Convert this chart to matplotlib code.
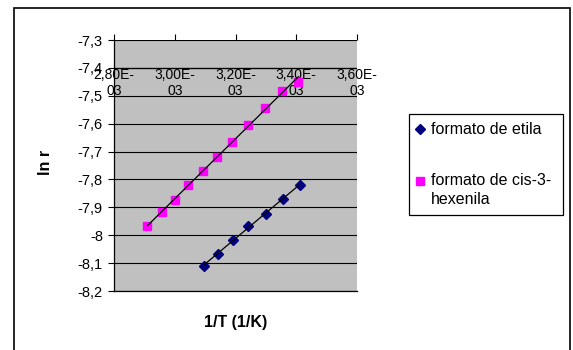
import numpy as np
import matplotlib
matplotlib.use("Agg")
import matplotlib.pyplot as plt
from matplotlib.patches import Rectangle
from matplotlib.lines import Line2D

plt.rcParams['font.family'] = ['Liberation Sans', 'DejaVu Sans']

# Data (1/T in 1/K, ln r)
x_etila = [3.095e-3, 3.142e-3, 3.192e-3, 3.242e-3, 3.299e-3, 3.355e-3, 3.411e-3]
y_etila = [-8.110, -8.067, -8.016, -7.967, -7.924, -7.869, -7.821]

x_hex = [2.910e-3, 2.957e-3, 3.002e-3, 3.043e-3, 3.094e-3, 3.140e-3,
         3.189e-3, 3.240e-3, 3.296e-3, 3.352e-3, 3.407e-3]
y_hex = [-7.967, -7.917, -7.873, -7.819, -7.769, -7.720,
         -7.665, -7.603, -7.543, -7.484, -7.449]

x_ticks = [2.8e-3, 3.0e-3, 3.2e-3, 3.4e-3, 3.6e-3]
x_tick_labels = ["2,80E-\n03", "3,00E-\n03", "3,20E-\n03", "3,40E-\n03", "3,60E-\n03"]
y_ticks = [-8.2, -8.1, -8.0, -7.9, -7.8, -7.7, -7.6, -7.5, -7.4, -7.3]
y_tick_labels = ["-8,2", "-8,1", "-8", "-7,9", "-7,8", "-7,7", "-7,6", "-7,5", "-7,4", "-7,3"]
x_axis_cross = -7.4

series_labels = ["formato de etila", "formato de cis-3-\nhexenila"]

W, H = 573, 350
fig = plt.figure(figsize=(W / 100, H / 100), dpi=100)

def fx(px):
    return px / W

def fy(py):
    return 1 - py / H

left, right, top, bottom = 114, 357, 40, 291
ax = fig.add_axes([fx(left), fy(bottom), fx(right) - fx(left), fy(top) - fy(bottom)])
ax.set_facecolor('#C0C0C0')
ax.set_xlim(x_ticks[0], x_ticks[-1])
ax.set_ylim(y_ticks[0], y_ticks[-1])

for s in ['top', 'right']:
    ax.spines[s].set_visible(False)
ax.spines['left'].set_linewidth(0.9)
ax.spines['bottom'].set_linewidth(0.9)

ax.set_yticks(y_ticks)
ax.set_yticklabels(y_tick_labels, fontsize=10.5)
ax.tick_params(axis='y', direction='out', length=4, width=0.8, pad=4)
ax.yaxis.grid(True, color='black', linewidth=0.8)
ax.set_axisbelow(True)

ax.set_xticks(x_ticks)
ax.xaxis.set_ticks_position('top')
ax.tick_params(axis='x', direction='out', length=4, width=0.8, labeltop=False, labelbottom=False)
for xv, lab in zip(x_ticks, x_tick_labels):
    ax.text(xv, x_axis_cross, lab, ha='center', va='top', fontsize=10,
            linespacing=1.2, multialignment='center')
ax.axhline(x_axis_cross, color='black', linewidth=0.9)

# series
ax.plot(x_etila, y_etila, linestyle='none', marker='D', markersize=5.5,
        color='#000080', zorder=3)
ax.plot(x_hex, y_hex, linestyle='none', marker='s', markersize=6,
        color='#FF00FF', zorder=3)

# linear trend lines
for xs, ys in [(x_etila, y_etila), (x_hex, y_hex)]:
    xs = np.array(xs)
    p = np.polyfit(xs, ys, 1)
    xx = np.array([xs.min(), xs.max()])
    ax.plot(xx, np.polyval(p, xx), color='black', linewidth=0.9, zorder=4)

# axis titles
fig.text(fx(235.5), fy(323), "1/T (1/K)", ha='center', va='center',
         fontsize=11.5, fontweight='bold')
fig.text(fx(46), fy(162), "ln r", ha='center', va='center', rotation=90,
         fontsize=11.5, fontweight='bold')

# outer chart border
fig.add_artist(Rectangle((fx(13.5), -0.05), fx(569.5) - fx(13.5), fy(8) + 0.05,
                         transform=fig.transFigure, fill=False,
                         edgecolor='black', linewidth=1.2))

# legend
fig.add_artist(Rectangle((fx(409), fy(215)), fx(563) - fx(409), fy(114) - fy(215),
                         transform=fig.transFigure, facecolor='white',
                         edgecolor='black', linewidth=0.9))
fig.add_artist(Line2D([fx(420)], [fy(129)], transform=fig.transFigure,
                      marker='D', markersize=5.5, color='#000080', linestyle='none'))
fig.text(fx(431), fy(129), series_labels[0], ha='left', va='center', fontsize=11.5)
fig.add_artist(Line2D([fx(420)], [fy(181)], transform=fig.transFigure,
                      marker='s', markersize=6, color='#FF00FF', linestyle='none'))
fig.text(fx(431), fy(173), series_labels[1], ha='left', va='top', fontsize=11.5,
         linespacing=1.3)

fig.savefig('out.png', dpi=100)
